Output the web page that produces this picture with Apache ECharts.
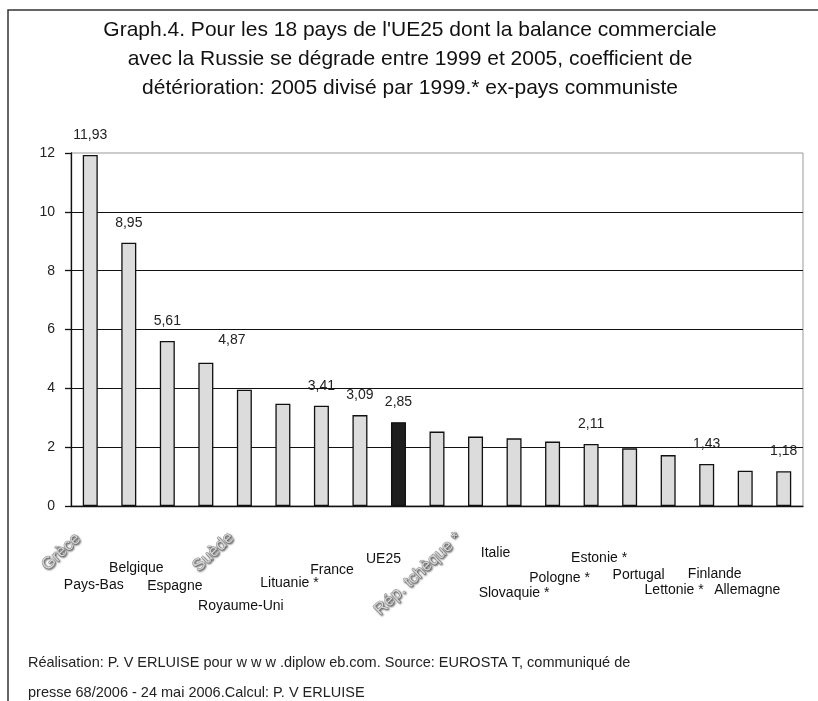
<!DOCTYPE html>
<html>
<head>
<meta charset="utf-8">
<script src="https://cdn.jsdelivr.net/npm/echarts@6/dist/echarts.min.js"></script>
<style>
  html, body { margin: 0; padding: 0; background: #fff; }
  #main { width: 818px; height: 701px; }
</style>
</head>
<body>
<div id="main"></div>
<script>
// pays (ordre du graphique), le dernier n'a pas d'étiquette visible
const categories = ['Grèce', 'Pays-Bas', 'Belgique', 'Espagne', 'Suède', 'Royaume-Uni', 'Lituanie *',
  'France', 'UE25', 'Rép. tchèque *', 'Italie', 'Slovaquie *', 'Pologne *', 'Estonie *', 'Portugal',
  'Lettonie *', 'Finlande', 'Allemagne', ''];
// coefficient de détérioration 2005 / 1999
const values = [11.93, 8.95, 5.61, 4.87, 3.95, 3.48, 3.41, 3.09, 2.85, 2.53, 2.36, 2.30, 2.19, 2.11,
  1.96, 1.73, 1.43, 1.20, 1.18];
// valeurs affichées au-dessus des barres
const showValue = [true, true, true, true, false, false, true, true, true, false, false, false, false, true,
  false, false, true, false, true];
const highlight = 'UE25';
const yTicks = { min: 0, max: 12, interval: 2 };

const titleText = "Graph.4. Pour les 18 pays de l'UE25 dont la balance commerciale\n" +
  "avec la Russie se dégrade entre 1999 et 2005, coefficient de\n" +
  "détérioration: 2005 divisé par 1999.* ex-pays communiste";
const footerText = 'Réalisation: P. V ERLUISE pour w w w .diplow eb.com. Source: EUROSTA T, communiqué de\n' +
  'presse 68/2006 - 24 mai 2006.Calcul: P. V ERLUISE';

// placement des étiquettes de catégories (décalage en px par rapport au pied de la barre)
const labelShift = [[-29, 46], [-35, 79], [-31, 62], [-31, 80], [-31, 46], [-42, 100], [-32, 77],
  [-28, 64], [-15, 53], [-19, 68], [20, 47], [0, 87], [7, 72], [8, 52], [9, 69], [6, 84], [8, 68], [2, 84], [0, 0]];
const tilted = [0, 4, 9];

const font = "'Liberation Sans', Arial, sans-serif";
const chart = echarts.init(document.getElementById('main'));

const option = {
  animation: false,
  title: [
    {
      text: titleText, left: 410, textAlign: 'center', top: 16, padding: 0,
      textStyle: { fontFamily: font, fontSize: 21, fontWeight: 'normal', color: '#111', lineHeight: 29 }
    },
    {
      text: footerText, left: 28, top: 648, padding: 0,
      textStyle: { fontFamily: font, fontSize: 14.5, fontWeight: 'normal', color: '#222', lineHeight: 30 }
    }
  ],
  grid: { left: 71, right: 15, top: 153, bottom: 195, show: true, borderColor: '#999', borderWidth: 1 },
  xAxis: {
    type: 'category',
    data: categories,
    axisLine: { lineStyle: { color: '#111', width: 1.3 } },
    axisTick: { length: 6, lineStyle: { color: '#111', width: 1.3 } },
    axisLabel: { show: false }
  },
  yAxis: {
    type: 'value',
    min: yTicks.min, max: yTicks.max, interval: yTicks.interval,
    axisLine: { show: true, lineStyle: { color: '#111', width: 1.3 } },
    axisTick: { show: true, length: 6, lineStyle: { color: '#111', width: 1.3 } },
    axisLabel: { margin: 16, fontFamily: font, fontSize: 14, color: '#222' },
    splitLine: { show: true, showMaxLine: false, lineStyle: { color: '#111', width: 1.2 } }
  },
  series: [{
    type: 'bar',
    barWidth: 15,
    data: values.map((v, i) => ({
      value: v,
      itemStyle: { color: categories[i] === highlight ? '#1e1e1e' : '#dcdcdc' },
      label: {
        show: showValue[i],
        offset: values[i] === 4.87 ? [26, -3] : [0, 0]
      }
    })),
    itemStyle: { borderColor: '#111', borderWidth: 1.3 },
    label: {
      position: 'top', distance: 13,
      fontFamily: font, fontSize: 14, color: '#222',
      formatter: p => p.value.toFixed(2).replace('.', ',')
    }
  }]
};
chart.setOption(option);

// étiquettes des pays, posées à partir des coordonnées de l'axe
const baseY = chart.convertToPixel({ yAxisIndex: 0 }, 0);
const graphics = [{
  type: 'rect', silent: true,
  shape: { x: 8, y: 10, width: 830, height: 720 },
  style: { fill: 'none', stroke: '#333', lineWidth: 1.5 }
}];
categories.forEach((name, i) => {
  if (!name) return;
  const cx = chart.convertToPixel({ xAxisIndex: 0 }, i);
  const isTilted = tilted.indexOf(i) >= 0;
  graphics.push({
    type: 'text', silent: true,
    x: cx + labelShift[i][0],
    y: baseY + labelShift[i][1],
    rotation: isTilted ? 43 * Math.PI / 180 : 0,
    style: isTilted ? {
      text: name, fontFamily: font, fontSize: 17, fill: '#d4d4d4',
      stroke: '#8a8a8a', lineWidth: 0.8,
      textShadowColor: 'rgba(0,0,0,0.55)', textShadowBlur: 2, textShadowOffsetX: 1, textShadowOffsetY: 1,
      align: 'center', verticalAlign: 'middle'
    } : {
      text: name, fontFamily: font, fontSize: 14, fill: '#111',
      align: 'center', verticalAlign: 'middle'
    }
  });
});
chart.setOption({ graphic: graphics });
</script>
</body>
</html>
